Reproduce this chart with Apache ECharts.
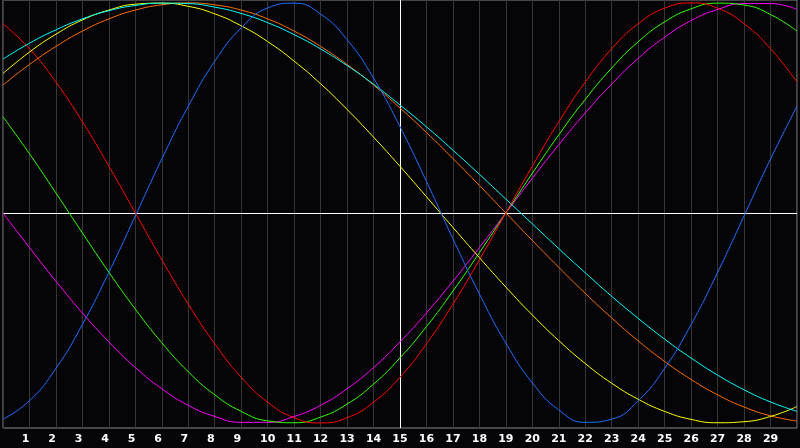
<!DOCTYPE html>
<html>
<head>
    <meta charset="utf-8">
    <title>Biorhythm</title>
    <script src="https://cdn.jsdelivr.net/npm/echarts@6/dist/echarts.min.js"></script>
    <style type="text/css">
        * {
            margin: 0px;
            padding: 0px;
        }

        body {
            background: #050508;
        }

        #chart {
            position: absolute;
            width: 800px;
            height: 448px;
        }
    </style>
</head>
<body>
<div id="chart"></div>
<script type="text/javascript">
    // days shown on the x axis
    var days = [0, 1, 2, 3, 4, 5, 6, 7, 8, 9, 10, 11, 12, 13, 14, 15,
        16, 17, 18, 19, 20, 21, 22, 23, 24, 25, 26, 27, 28, 29, 30];
    var today = 15;

    // values, one per day
    var blue = [-0.982, -0.894, -0.740, -0.531, -0.283, -0.014, 0.257, 0.508, 0.722, 0.881,
        0.976, 0.999, 0.947, 0.825, 0.642, 0.411, 0.150, -0.123, -0.386, -0.620,
        -0.809, -0.938, -0.997, -0.982, -0.894, -0.740, -0.531, -0.283, -0.014, 0.257, 0.508];
    var red = [0.901, 0.782, 0.623, 0.434, 0.223, 0, -0.223, -0.434, -0.623, -0.782,
        -0.901, -0.975, -1, -0.975, -0.901, -0.782, -0.623, -0.434, -0.223, 0,
        0.223, 0.434, 0.623, 0.782, 0.901, 0.975, 1, 0.975, 0.901, 0.782, 0.623];
    var green = [0.458, 0.282, 0.095, -0.095, -0.282, -0.458, -0.618, -0.756, -0.866, -0.945,
        -0.990, -0.999, -0.972, -0.910, -0.815, -0.690, -0.541, -0.372, -0.189, 0,
        0.189, 0.372, 0.541, 0.690, 0.815, 0.910, 0.972, 0.999, 0.990, 0.945, 0.866];
    var magenta = [0, -0.165, -0.325, -0.476, -0.614, -0.736, -0.837, -0.916, -0.969, -0.997,
        -0.997, -0.969, -0.916, -0.837, -0.736, -0.614, -0.476, -0.325, -0.165, 0,
        0.165, 0.325, 0.476, 0.614, 0.736, 0.837, 0.916, 0.969, 0.997, 0.997, 0.969];
    var yellow = [0.664, 0.766, 0.851, 0.919, 0.966, 0.994, 0.999, 0.984, 0.948, 0.891,
        0.816, 0.723, 0.615, 0.493, 0.361, 0.222, 0.077, -0.069, -0.213, -0.353,
        -0.486, -0.608, -0.717, -0.811, -0.887, -0.945, -0.983, -0.999, -0.994, -0.969, -0.922];
    var orange = [0.609, 0.707, 0.793, 0.866, 0.924, 0.966, 0.991, 1, 0.991, 0.966,
        0.924, 0.866, 0.793, 0.707, 0.609, 0.5, 0.383, 0.259, 0.131, 0,
        -0.131, -0.259, -0.383, -0.5, -0.609, -0.707, -0.793, -0.866, -0.924, -0.966, -0.991];
    var cyan = [0.733, 0.808, 0.872, 0.924, 0.963, 0.988, 0.999, 0.997, 0.980, 0.950,
        0.906, 0.849, 0.781, 0.702, 0.613, 0.514, 0.410, 0.299, 0.184, 0.066,
        -0.052, -0.170, -0.285, -0.397, -0.502, -0.601, -0.691, -0.772, -0.842, -0.900, -0.945];

    var myChart = echarts.init(document.getElementById('chart'));

    function pairs(values) {
        var out = [];
        for (var i = 0; i < days.length; i++) {
            out.push([days[i], values[i]]);
        }
        return out;
    }

    function curve(name, values, color) {
        return {
            name: name,
            type: 'line',
            data: pairs(values),
            smooth: true,
            showSymbol: false,
            lineStyle: {color: color, width: 1},
            z: 3
        };
    }

    var series = [
        curve('magenta', magenta, '#ff00ff'),
        curve('green', green, '#33ff00'),
        curve('red', red, '#ff0000'),
        curve('orange', orange, '#ff7000'),
        curve('yellow', yellow, '#ffff00'),
        curve('cyan', cyan, '#00ffff'),
        curve('blue', blue, '#1e6eff')
    ];
    // zero line and today line
    series[0].markLine = {
        silent: true,
        symbol: 'none',
        label: {show: false},
        lineStyle: {color: '#ffffff', type: 'solid', width: 1},
        data: [{yAxis: 0}, {xAxis: today}],
        z: 2
    };

    var option = {
        backgroundColor: '#050508',
        animation: false,
        grid: {
            left: 0,
            right: 1,
            top: 0,
            bottom: 20,
            show: true,
            borderColor: '#8a8a8a',
            borderWidth: 1,
            backgroundColor: 'transparent'
        },
        xAxis: {
            type: 'value',
            min: 0,
            max: 30,
            interval: 1,
            axisLine: {show: false},
            axisTick: {show: false},
            splitLine: {show: true, lineStyle: {color: '#363636', width: 1}},
            axisLabel: {
                margin: 6,
                color: '#ffffff',
                fontFamily: 'DejaVu Sans',
                fontWeight: 'bold',
                fontSize: 11,
                formatter: function (v) {
                    if (v <= 0 || v >= 30) return '';
                    // single digits sit a little left of their day line
                    return v < 10 ? v + '\u2007' : '' + v;
                }
            }
        },
        yAxis: {
            type: 'value',
            min: -1.024,
            max: 1.014,
            show: false,
            splitLine: {show: false}
        },
        series: series
    };

    myChart.setOption(option);
</script>
</body>
</html>
